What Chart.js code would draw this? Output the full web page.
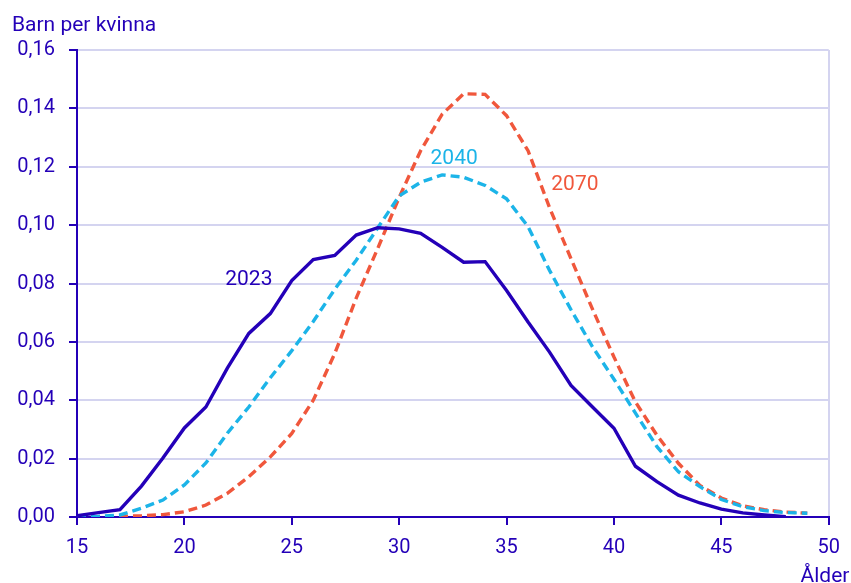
<!DOCTYPE html>
<html>
<head>
<meta charset="utf-8">
<script src="https://cdn.jsdelivr.net/npm/chart.js@4"></script>
<style>
  html, body { margin: 0; padding: 0; background: #fff; }
  #wrap { width: 851px; height: 583px; }
</style>
</head>
<body>
<div id="wrap"><canvas id="myChart" width="851" height="583"></canvas></div>
<script>
// age 15..49
const ages = [15,16,17,18,19,20,21,22,23,24,25,26,27,28,29,30,31,32,33,34,35,36,37,38,39,40,41,42,43,44,45,46,47,48,49];

const y2023 = [0.0004,0.0015,0.0025,0.0106,0.0202,0.0305,0.0377,0.051,0.0629,0.0697,0.081,0.0882,0.0896,0.0966,0.0991,0.0987,0.0972,0.0924,0.0873,0.0875,0.0776,0.0668,0.0565,0.0451,0.0377,0.0304,0.0174,0.0121,0.0075,0.0048,0.0027,0.0014,0.0007,0.0001,null];
const y2040 = [0,0.0002,0.0007,0.003,0.0058,0.011,0.0185,0.0287,0.0377,0.0477,0.057,0.067,0.078,0.088,0.099,0.110,0.1147,0.1172,0.1164,0.1136,0.109,0.0995,0.0845,0.071,0.0583,0.0472,0.0356,0.0241,0.0155,0.0104,0.006,0.0035,0.0022,0.0015,0.0013];
const y2070 = [0,0.0001,0.0002,0.0004,0.0008,0.0018,0.0041,0.0081,0.0138,0.0206,0.0286,0.040,0.056,0.075,0.092,0.1095,0.1255,0.138,0.145,0.1448,0.1375,0.1255,0.106,0.0885,0.0712,0.0548,0.0394,0.028,0.0184,0.0108,0.0065,0.0038,0.0025,0.0017,0.0013];

const seriesNames = ['2023', '2040', '2070'];
const labelAt = [[23.0, 0.0814], [32.56, 0.1228], [38.18, 0.1139]];

const navy = '#2400b8';
const cyan = '#1cb4e8';
const red = '#f0573c';
const grid = '#d4d4f0';
const font = 'Roboto, "Noto Sans", sans-serif';

function pts(arr) {
    return ages.map((a, i) => ({ x: a, y: arr[i] }));
}

const textPlugin = {
    id: 'texts',
    afterDraw(chart) {
        const c = chart.ctx;
        const xs = chart.scales.x, ys = chart.scales.y;
        c.save();
        c.font = '21px ' + font;
        c.fillStyle = navy;
        c.textBaseline = 'alphabetic';
        c.textAlign = 'left';
        c.fillText('Barn per kvinna', 12, 31);
        c.textAlign = 'center';
        c.fillText('Ålder', 825, 582);
        const cols = [navy, cyan, red];
        c.font = '21px ' + font;
        c.textBaseline = 'middle';
        seriesNames.forEach((n, i) => {
            c.fillStyle = cols[i];
            c.fillText(n, xs.getPixelForValue(labelAt[i][0]), ys.getPixelForValue(labelAt[i][1]));
        });
        c.restore();
    }
};

new Chart(document.getElementById('myChart'), {
    type: 'line',
    data: {
        datasets: [{
            label: '2023',
            data: pts(y2023),
            borderColor: navy,
            borderWidth: 3.4,
            pointRadius: 0,
            tension: 0
        }, {
            label: '2040',
            data: pts(y2040),
            borderColor: cyan,
            borderWidth: 3.4,
            borderDash: [9, 5],
            pointRadius: 0,
            tension: 0
        }, {
            label: '2070',
            data: pts(y2070),
            borderColor: red,
            borderWidth: 3.4,
            borderDash: [9, 5],
            pointRadius: 0,
            tension: 0
        }]
    },
    options: {
        responsive: false,
        animation: false,
        layout: { padding: { top: 50, right: 22, left: 0, bottom: 0 } },
        plugins: { legend: { display: false }, tooltip: { enabled: false } },
        scales: {
            x: {
                type: 'linear',
                min: 15,
                max: 50,
                afterFit: s => { s.height = 66; },
                border: { color: navy, width: 2 },
                grid: {
                    color: ctx => ctx.tick && ctx.tick.value === 50 ? grid : 'rgba(0,0,0,0)',
                    tickColor: navy,
                    tickLength: 8,
                    lineWidth: 2
                },
                ticks: {
                    stepSize: 5,
                    color: navy,
                    font: { family: font, size: 20 },
                    padding: 11,
                    maxRotation: 0
                }
            },
            y: {
                min: 0,
                max: 0.16,
                afterFit: s => { s.width = 77; },
                border: { color: navy, width: 2 },
                grid: {
                    color: grid,
                    tickColor: navy,
                    tickLength: 8,
                    lineWidth: 2
                },
                ticks: {
                    stepSize: 0.02,
                    color: navy,
                    font: { family: font, size: 20 },
                    padding: 14,
                    callback: v => v.toFixed(2).replace('.', ',')
                }
            }
        }
    },
    plugins: [textPlugin]
});
</script>
</body>
</html>
